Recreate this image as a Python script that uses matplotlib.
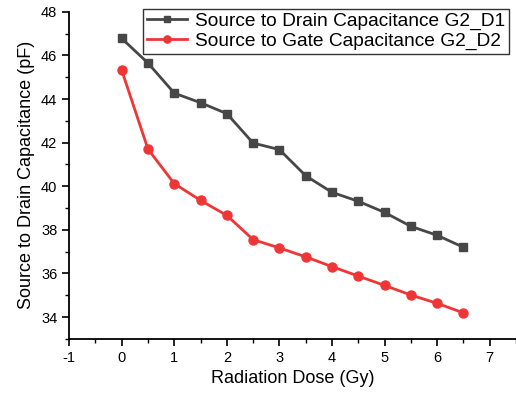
import matplotlib
matplotlib.use('Agg')
import matplotlib.pyplot as plt
from matplotlib.ticker import MultipleLocator

plt.rcParams['font.family'] = ['Liberation Sans', 'DejaVu Sans']
plt.rcParams['axes.unicode_minus'] = False

# data
dose = [0, 0.5, 1, 1.5, 2, 2.5, 3, 3.5, 4, 4.5, 5, 5.5, 6, 6.5]
drain_cap = [46.78, 45.65, 44.27, 43.83, 43.33, 41.98, 41.68, 40.48,
             39.72, 39.31, 38.80, 38.16, 37.75, 37.20]
gate_cap = [45.32, 41.70, 40.12, 39.35, 38.66, 37.55, 37.17, 36.76,
            36.31, 35.88, 35.45, 35.01, 34.63, 34.19]

labels = ['Source to Drain Capacitance G2_D1', 'Source to Gate Capacitance G2_D2']

fig = plt.figure(figsize=(5.16, 3.94), dpi=100)
ax = fig.add_axes([0.134, 0.14, 0.866, 0.83])

ax.plot(dose, drain_cap, color='#474747', marker='s', markersize=6,
        linewidth=2, label=labels[0])
ax.plot(dose, gate_cap, color='#ef3535', marker='o', markersize=6.5,
        linewidth=2, label=labels[1])

ax.set_xlim(-1, 7.5)
ax.set_ylim(33, 48)
ax.xaxis.set_major_locator(MultipleLocator(1))
ax.xaxis.set_minor_locator(MultipleLocator(0.5))
ax.yaxis.set_minor_locator(MultipleLocator(1))
ax.set_yticks([34, 36, 38, 40, 42, 44, 46, 48])

for side in ['top', 'right']:
    ax.spines[side].set_visible(False)
for side in ['left', 'bottom']:
    ax.spines[side].set_linewidth(1.3)
ax.tick_params(which='major', direction='out', length=5, width=1.2, labelsize=10.5)
ax.tick_params(which='minor', direction='out', length=3, width=1.0)

ax.set_xlabel('Radiation Dose (Gy)', fontsize=13)
ax.set_ylabel('Source to Drain Capacitance (pF)', fontsize=13)

leg = ax.legend(loc='upper right', bbox_to_anchor=(0.984, 1.009), fontsize=13.8,
                frameon=True, fancybox=False, handlelength=2.1, markerscale=0.8,
                borderpad=0.2, labelspacing=0.1, handletextpad=0.4,
                borderaxespad=0.0)
leg.get_frame().set_edgecolor('black')
leg.get_frame().set_linewidth(1.0)

fig.savefig('out.png', dpi=100)
